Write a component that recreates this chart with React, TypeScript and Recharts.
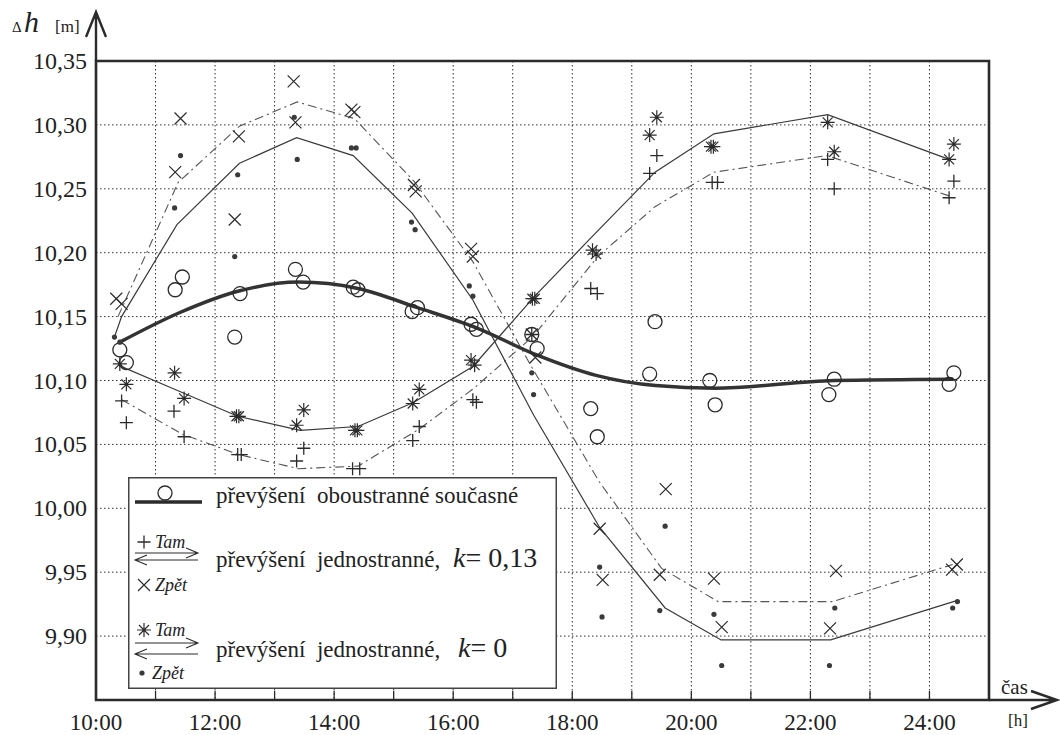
import React from 'react';
import { ComposedChart, Line, Scatter, XAxis, YAxis, CartesianGrid, ReferenceArea, Legend } from 'recharts';

const INK = '#2b2b2b';
const FONT = "'Liberation Serif', 'DejaVu Serif', 'Noto Serif', 'Times New Roman', serif";
const serif = { fontFamily: FONT };

// osy
const hourTicks = [10, 11, 12, 13, 14, 15, 16, 17, 18, 19, 20, 21, 22, 23, 24, 25];
const valueTicks = [9.85, 9.9, 9.95, 10, 10.05, 10.1, 10.15, 10.2, 10.25, 10.3, 10.35];

// převýšení oboustranné současné (kroužky)
const obouT = [10.40, 10.51, 11.33, 11.45, 12.33, 12.42, 13.35, 13.48, 14.32, 14.40, 15.31, 15.40, 16.30, 16.39, 17.32, 17.41, 18.31, 18.42, 19.30, 19.39, 20.31, 20.40, 22.31, 22.40, 24.33, 24.41];
const obouV = [10.124, 10.114, 10.171, 10.181, 10.134, 10.168, 10.187, 10.177, 10.173, 10.171, 10.154, 10.157, 10.144, 10.140, 10.136, 10.125, 10.078, 10.056, 10.105, 10.146, 10.100, 10.081, 10.089, 10.101, 10.097, 10.106];
const obouLineT = [10.4, 11.4, 12.4, 13.4, 14.4, 15.4, 16.4, 17.4, 18.4, 19.4, 20.4, 22.4, 24.4];
const obouLineV = [10.130, 10.153, 10.170, 10.177, 10.172, 10.157, 10.141, 10.120, 10.104, 10.096, 10.094, 10.100, 10.101];

// k = 0,13  Tam (+)
const tam13T = [10.43, 10.51, 11.31, 11.48, 12.38, 12.44, 13.37, 13.49, 14.31, 14.43, 15.32, 15.43, 16.33, 16.39, 17.32, 18.31, 18.42, 19.30, 19.42, 20.35, 20.44, 22.29, 22.40, 24.33, 24.41];
const tam13V = [10.084, 10.067, 10.076, 10.056, 10.042, 10.042, 10.037, 10.047, 10.031, 10.031, 10.053, 10.064, 10.085, 10.083, 10.136, 10.172, 10.168, 10.262, 10.276, 10.255, 10.255, 10.273, 10.250, 10.243, 10.256];
const tam13LineT = [10.43, 11.45, 12.40, 13.40, 14.40, 15.43, 16.35, 17.35, 18.43, 19.39, 20.38, 22.28, 24.36];
const tam13LineV = [10.085, 10.058, 10.042, 10.031, 10.033, 10.062, 10.094, 10.135, 10.197, 10.236, 10.263, 10.276, 10.244];

// k = 0,13  Zpět (×)
const zpet13T = [10.34, 10.43, 11.33, 11.42, 12.33, 12.40, 13.32, 13.35, 14.29, 14.34, 15.34, 15.37, 16.30, 16.33, 17.32, 17.38, 18.46, 18.51, 19.47, 19.57, 20.38, 20.51, 22.33, 22.43, 24.38, 24.46];
const zpet13V = [10.164, 10.160, 10.263, 10.305, 10.226, 10.291, 10.334, 10.302, 10.312, 10.310, 10.253, 10.248, 10.203, 10.197, 10.136, 10.118, 9.984, 9.944, 9.948, 10.015, 9.945, 9.907, 9.906, 9.951, 9.952, 9.956];
const zpet13LineT = [10.37, 11.38, 12.41, 13.38, 14.34, 15.34, 16.33, 17.30, 18.45, 19.50, 20.45, 22.37, 24.39];
const zpet13LineV = [10.150, 10.255, 10.299, 10.318, 10.305, 10.256, 10.193, 10.112, 10.021, 9.953, 9.927, 9.927, 9.956];

// k = 0  Tam (hvězdičky)
const tam0T = [10.40, 10.51, 11.32, 11.48, 12.36, 12.40, 13.37, 13.49, 14.35, 14.39, 15.32, 15.43, 16.30, 16.36, 17.33, 17.37, 18.34, 18.40, 19.30, 19.42, 20.33, 20.37, 22.29, 22.40, 24.33, 24.41];
const tam0V = [10.113, 10.097, 10.106, 10.086, 10.072, 10.072, 10.065, 10.077, 10.061, 10.061, 10.082, 10.093, 10.116, 10.112, 10.164, 10.164, 10.202, 10.199, 10.292, 10.306, 10.283, 10.283, 10.302, 10.279, 10.273, 10.285];
const tam0LineT = [10.37, 11.33, 12.38, 13.43, 14.40, 15.34, 16.33, 17.37, 18.28, 19.39, 20.38, 22.29, 24.33];
const tam0LineV = [10.112, 10.093, 10.072, 10.061, 10.064, 10.083, 10.111, 10.166, 10.210, 10.263, 10.293, 10.308, 10.273];

// k = 0  Zpět (tečky)
const zpet0T = [10.31, 10.40, 11.32, 11.42, 12.33, 12.38, 13.33, 13.38, 14.29, 14.37, 15.30, 15.36, 16.27, 16.33, 17.32, 17.35, 18.46, 18.50, 19.47, 19.56, 20.38, 20.51, 22.32, 22.41, 24.39, 24.47];
const zpet0V = [10.134, 10.130, 10.235, 10.276, 10.197, 10.261, 10.306, 10.273, 10.282, 10.282, 10.224, 10.218, 10.174, 10.166, 10.106, 10.089, 9.954, 9.915, 9.920, 9.986, 9.917, 9.877, 9.877, 9.922, 9.922, 9.927];
const zpet0LineT = [10.31, 10.43, 11.36, 12.41, 13.37, 14.32, 15.31, 16.33, 17.35, 18.46, 19.56, 20.50, 22.34, 24.47];
const zpet0LineV = [10.134, 10.150, 10.222, 10.270, 10.290, 10.276, 10.231, 10.163, 10.073, 9.985, 9.922, 9.897, 9.897, 9.928];

const zip = (t: number[], v: number[]) => t.map((x, i) => ({ t: x, v: v[i] }));

const Ring = (p: any) => <circle cx={p.cx} cy={p.cy} r={7} fill="none" stroke={INK} strokeWidth={1.3} />;
const PlusMark = (p: any) => (
  <path d={`M${p.cx - 6.5},${p.cy}H${p.cx + 6.5}M${p.cx},${p.cy - 6.5}V${p.cy + 6.5}`} stroke={INK} strokeWidth={1.3} />
);
const CrossMark = (p: any) => (
  <path d={`M${p.cx - 6},${p.cy - 6}L${p.cx + 6},${p.cy + 6}M${p.cx - 6},${p.cy + 6}L${p.cx + 6},${p.cy - 6}`} stroke={INK} strokeWidth={1.2} />
);
const StarMark = (p: any) => {
  const { cx, cy } = p;
  return (
    <path
      d={`M${cx - 7},${cy}H${cx + 7}M${cx},${cy - 7}V${cy + 7}M${cx - 5},${cy - 5}L${cx + 5},${cy + 5}M${cx - 5},${cy + 5}L${cx + 5},${cy - 5}`}
      stroke={INK}
      strokeWidth={1.2}
    />
  );
};
const DotMark = (p: any) => <circle cx={p.cx} cy={p.cy} r={2.6} fill="#3a3a3a" />;

const XTick = (props: any) => {
  const { x, y, payload } = props;
  const h = payload.value;
  const show = h % 2 === 0 && h <= 24;
  return (
    <g>
      {h > 10 && h < 25 && <line x1={x} x2={x} y1={y} y2={y - 9} stroke={INK} strokeWidth={1.3} />}
      {show && (
        <text x={x} y={y + 30} textAnchor="middle" style={serif} fontSize={23} fill="#222">
          {`${h}:00`}
        </text>
      )}
    </g>
  );
};

const YTick = (props: any) => {
  const { x, y, payload } = props;
  if (payload.value < 9.87) return <g />;
  return (
    <text x={x - 9} y={y + 8} textAnchor="end" style={serif} fontSize={24} fill="#222">
      {payload.value.toFixed(2).replace('.', ',')}
    </text>
  );
};

const RightTick = (props: any) => {
  const { x, y, payload } = props;
  if (payload.value < 9.87 || payload.value > 10.33) return <g />;
  return <line x1={x - 10} x2={x} y1={y} y2={y} stroke={INK} strokeWidth={1.3} />;
};

const arrowR = (x1: number, x2: number, y: number) => `M${x1},${y}H${x2}M${x2 - 12},${y - 5}L${x2},${y}L${x2 - 12},${y + 5}`;
const arrowL = (x1: number, x2: number, y: number) => `M${x1},${y}H${x2}M${x1 + 12},${y - 5}L${x1},${y}L${x1 + 12},${y + 5}`;

const pre = { ...serif, whiteSpace: 'pre' as const };

const LegendBox = () => (
  <svg width={429} height={212} style={{ display: 'block' }}>
    <rect x={0.75} y={0.75} width={427.5} height={210.5} fill="#fff" stroke="#444" strokeWidth={1.5} />
    <g fill="#222" style={serif}>
      {/* řádek 1 */}
      <Ring cx={37} cy={16} />
      <line x1={7} x2={74} y1={25} y2={25} stroke={INK} strokeWidth={3.5} />
      <text x={88} y={26} fontSize={23} style={pre}>převýšení  oboustranné současné</text>

      {/* řádek 2 */}
      <PlusMark cx={16} cy={65} />
      <text x={27} y={71} fontSize={18} fontStyle="italic" style={serif}>Tam</text>
      <path d={arrowR(7, 70, 76)} stroke={INK} strokeWidth={1.1} fill="none" />
      <path d={arrowL(7, 70, 83)} stroke={INK} strokeWidth={1.1} fill="none" />
      <CrossMark cx={16} cy={108} />
      <text x={27} y={114} fontSize={18} fontStyle="italic" style={serif}>Zpět</text>
      <text x={88} y={90} fontSize={23} style={pre}>převýšení  jednostranné,</text>
      <text x={325} y={90} fontSize={28} style={pre}>
        <tspan fontStyle="italic">k</tspan>= 0,13
      </text>

      {/* řádek 3 */}
      <StarMark cx={16} cy={153} />
      <text x={27} y={159} fontSize={18} fontStyle="italic" style={serif}>Tam</text>
      <path d={arrowR(7, 70, 166)} stroke={INK} strokeWidth={1.1} fill="none" />
      <path d={arrowL(7, 70, 177)} stroke={INK} strokeWidth={1.1} fill="none" />
      <DotMark cx={14} cy={196} />
      <text x={24} y={202} fontSize={18} fontStyle="italic" style={serif}>Zpět</text>
      <text x={88} y={180} fontSize={23} style={pre}>převýšení  jednostranné,</text>
      <text x={330} y={180} fontSize={28} style={pre}>
        <tspan fontStyle="italic">k</tspan>= 0
      </text>
    </g>
  </svg>
);

export default function App() {
  return (
    <div style={{ position: 'absolute', left: 0, top: 0, width: 1060, height: 735, background: '#fff', fontFamily: FONT }}>
      <ComposedChart width={1060} height={735} margin={{ top: 61, right: 71, bottom: 0, left: 0 }}>
        <CartesianGrid stroke="#333" strokeDasharray="1.5 2.5" strokeWidth={1} />
        <XAxis
          type="number"
          dataKey="t"
          domain={[10, 25]}
          ticks={hourTicks}
          interval={0}
          allowDataOverflow
          height={35}
          tickSize={0}
          tickMargin={0}
          tickLine={false}
          axisLine={false}
          tick={<XTick />}
        />
        <YAxis
          type="number"
          dataKey="v"
          domain={[9.85, 10.35]}
          ticks={valueTicks}
          interval={0}
          allowDataOverflow
          width={96}
          tickSize={0}
          tickMargin={0}
          tickLine={false}
          axisLine={false}
          tick={<YTick />}
        />
        <YAxis
          yAxisId="right"
          orientation="right"
          type="number"
          domain={[9.85, 10.35]}
          ticks={valueTicks}
          interval={0}
          width={0}
          tickSize={0}
          tickMargin={0}
          tickLine={false}
          axisLine={false}
          tick={<RightTick />}
        />
        <ReferenceArea x1={10} x2={25} y1={9.85} y2={10.35} fill="none" stroke={INK} strokeWidth={2.6} ifOverflow="visible" />

        <Line data={zip(zpet13LineT, zpet13LineV)} dataKey="v" type="linear" stroke="#555" strokeWidth={1.1} strokeDasharray="9 4 2 4" dot={false} activeDot={false} isAnimationActive={false} />
        <Line data={zip(tam13LineT, tam13LineV)} dataKey="v" type="linear" stroke="#555" strokeWidth={1.1} strokeDasharray="9 4 2 4" dot={false} activeDot={false} isAnimationActive={false} />
        <Line data={zip(zpet0LineT, zpet0LineV)} dataKey="v" type="linear" stroke="#3a3a3a" strokeWidth={1.2} dot={false} activeDot={false} isAnimationActive={false} />
        <Line data={zip(tam0LineT, tam0LineV)} dataKey="v" type="linear" stroke="#3a3a3a" strokeWidth={1.2} dot={false} activeDot={false} isAnimationActive={false} />
        <Line data={zip(obouLineT, obouLineV)} dataKey="v" type="monotone" stroke="#333" strokeWidth={3.5} dot={false} activeDot={false} isAnimationActive={false} />

        <Scatter data={zip(obouT, obouV)} shape={Ring} isAnimationActive={false} />
        <Scatter data={zip(tam13T, tam13V)} shape={PlusMark} isAnimationActive={false} />
        <Scatter data={zip(zpet13T, zpet13V)} shape={CrossMark} isAnimationActive={false} />
        <Scatter data={zip(tam0T, tam0V)} shape={StarMark} isAnimationActive={false} />
        <Scatter data={zip(zpet0T, zpet0V)} shape={DotMark} isAnimationActive={false} />

        <Legend
          layout="vertical"
          align="center"
          verticalAlign="middle"
          content={LegendBox}
          wrapperStyle={{ left: 128, top: 477, width: 429, height: 212 }}
        />
      </ComposedChart>

      <svg width={1060} height={735} style={{ position: 'absolute', left: 0, top: 0, pointerEvents: 'none' }}>
        <path d="M96,61V12M86,37L96,12L106,37" stroke={INK} strokeWidth={2.4} fill="none" />
        <path d="M989,700H1057M1031,691L1057,700L1031,709" stroke={INK} strokeWidth={2.4} fill="none" />
        <g fill="#222" style={serif}>
          <text x={12} y={32} fontSize={15}>Δ</text>
          <text x={24} y={32} fontSize={30} fontStyle="italic">h</text>
          <text x={55} y={32} fontSize={17}>[m]</text>
          <text x={1001} y={694} fontSize={21}>čas</text>
          <text x={1008} y={726} fontSize={17}>[h]</text>
        </g>
      </svg>
    </div>
  );
}
